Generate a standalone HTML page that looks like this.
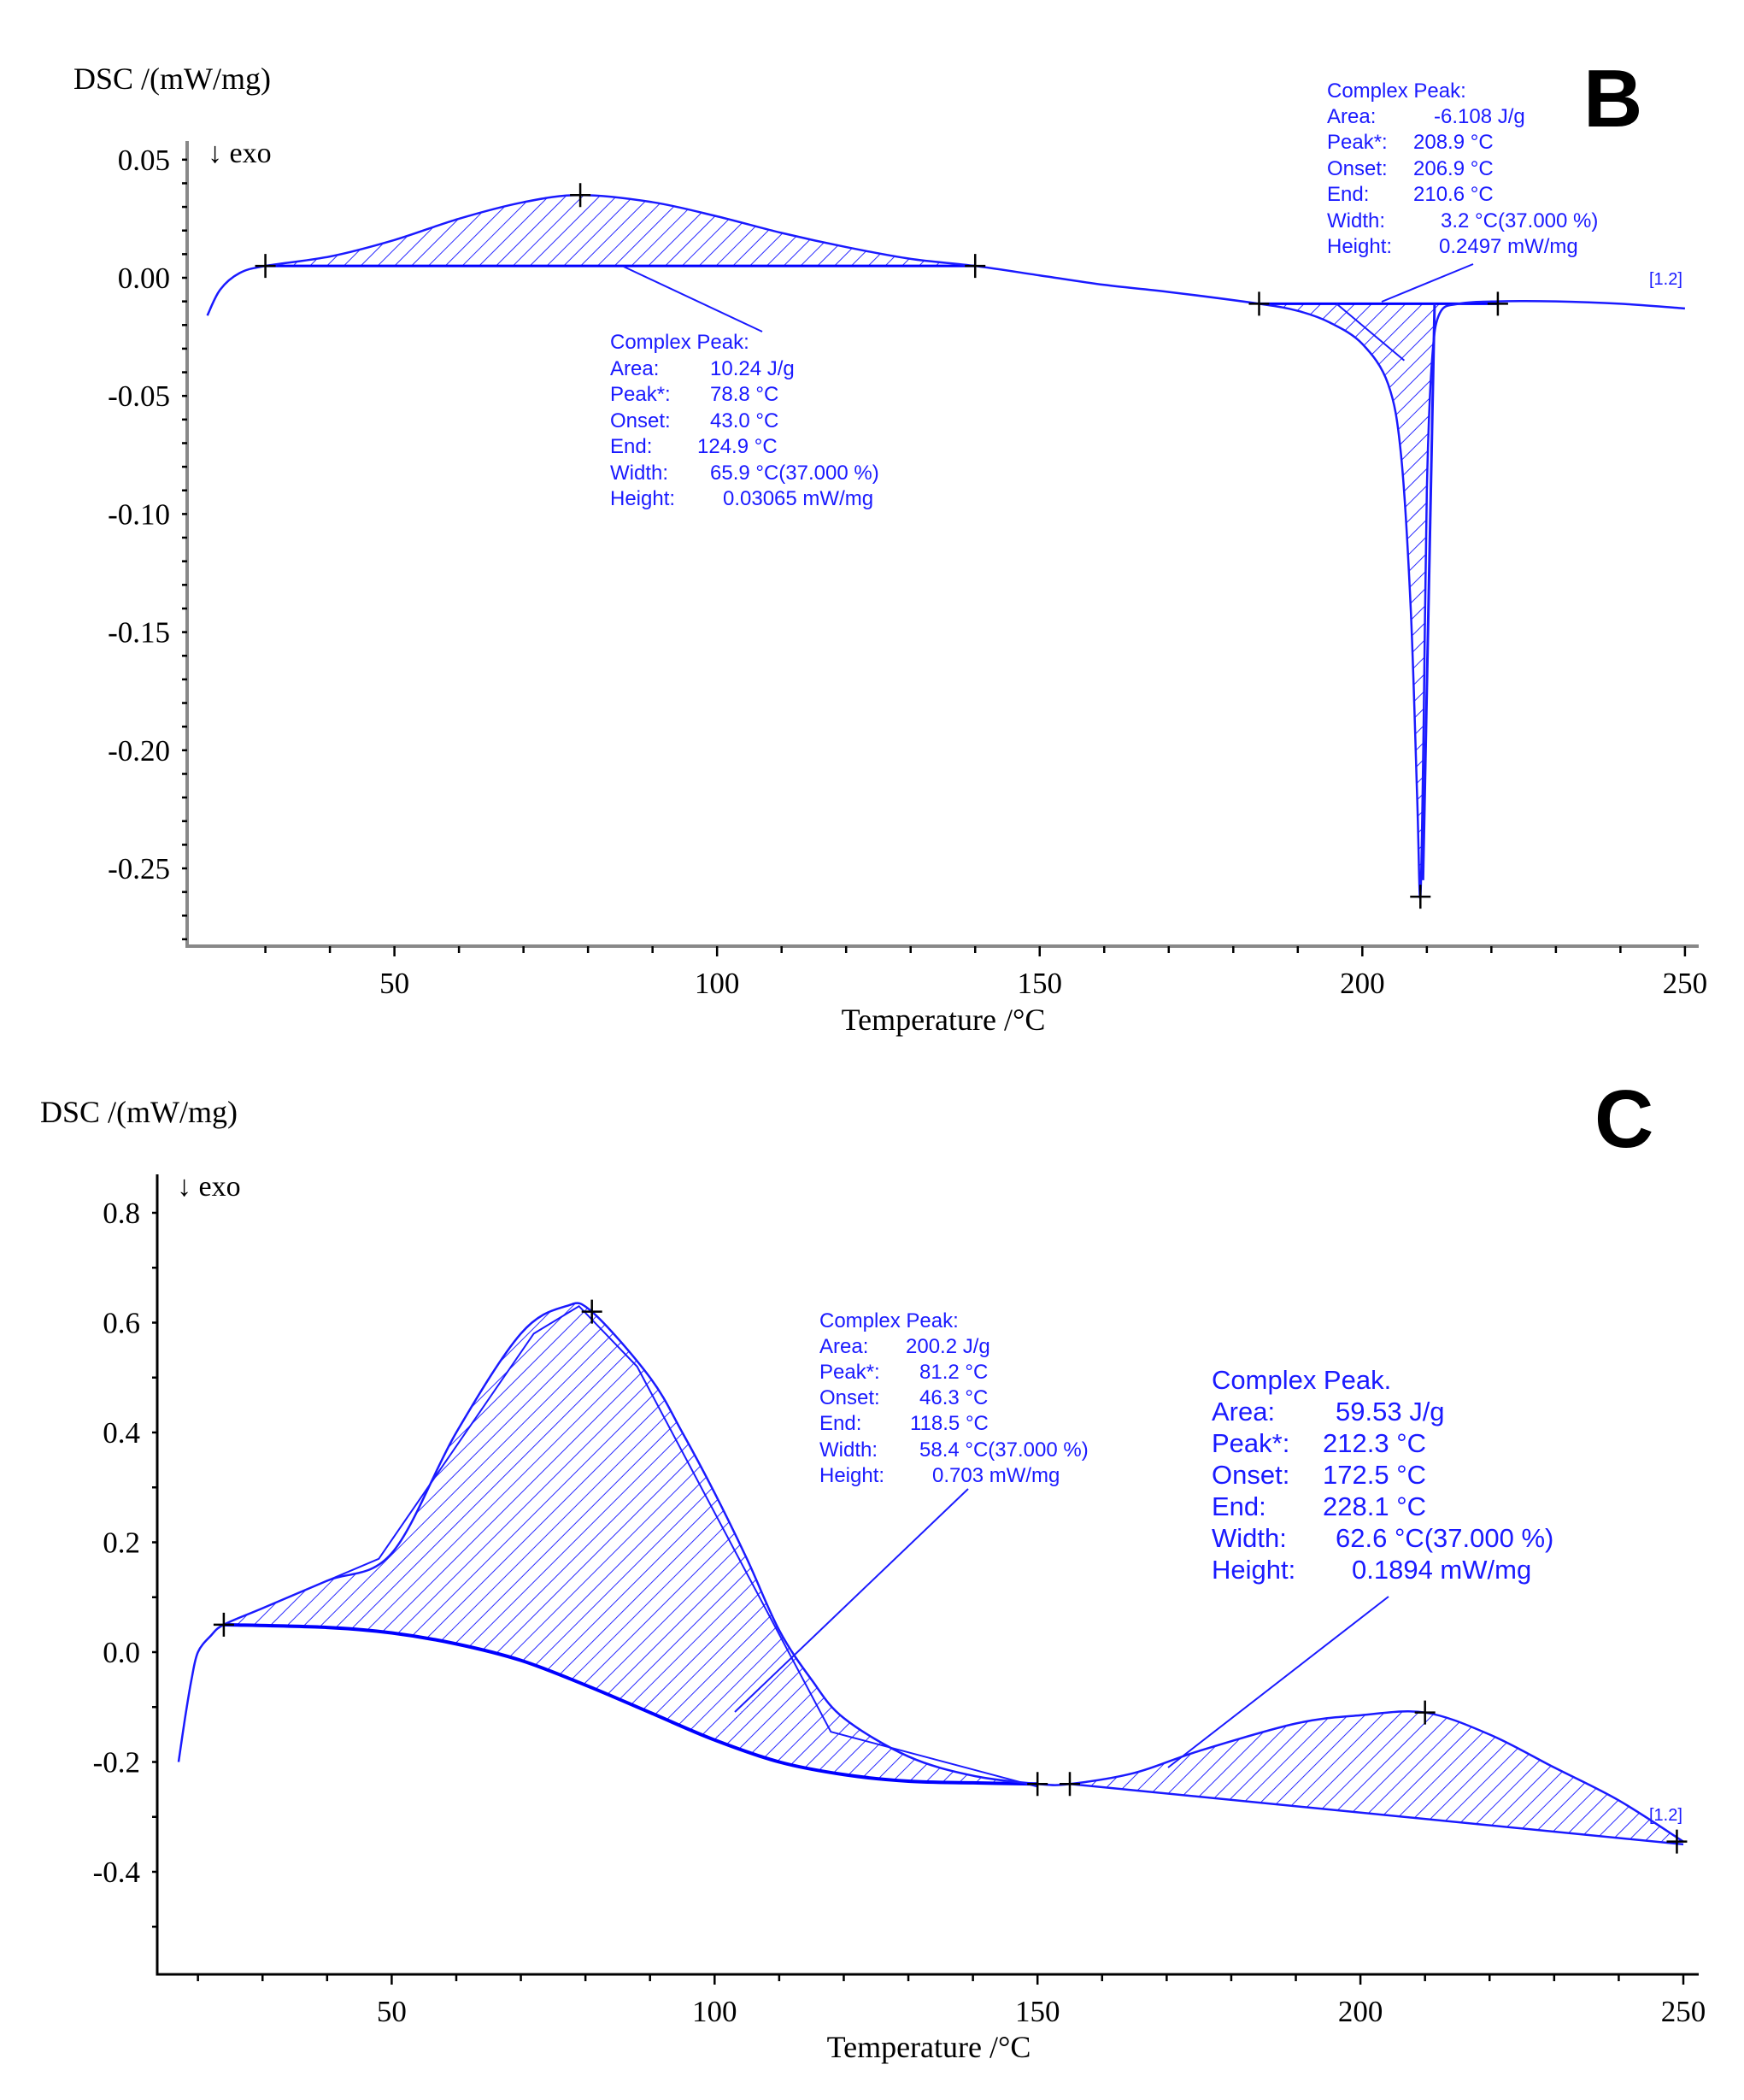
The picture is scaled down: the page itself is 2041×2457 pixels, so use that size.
<!DOCTYPE html>
<html><head><meta charset="utf-8"><style>
html,body{margin:0;padding:0;background:#fff;}
svg{display:block}
.tk{font-family:"Liberation Serif",serif;font-size:35px;fill:#000;}
.ann{font-family:"Liberation Sans",sans-serif;font-size:24px;fill:#1a1aff;}
.ann2{font-family:"Liberation Sans",sans-serif;font-size:31px;fill:#1a1aff;}
</style></head><body>
<svg id="svg" width="2041" height="2457" viewBox="0 0 2041 2457" xmlns="http://www.w3.org/2000/svg">
<defs>
<pattern id="hatch" patternUnits="userSpaceOnUse" width="14" height="14" patternTransform="rotate(45)">
<line x1="0" y1="0" x2="0" y2="14" stroke="#2a2aff" stroke-width="2"/>
</pattern>
</defs>
<g id="gB"></g>
<g id="gC"></g>
<text x="86" y="104" class="tk" style="font-size:36px">DSC /(mW/mg)</text>
<text x="243" y="190" class="tk" style="font-size:34px">↓ exo</text>
<text x="1853" y="148" style="font-family:'Liberation Sans',sans-serif;font-weight:bold;font-size:96px">B</text>
<text x="1104" y="1205" class="tk" text-anchor="middle" style="font-size:36px">Temperature /°C</text>
<g class="ann">
<text x="714" y="408">Complex Peak:</text>
<text x="714" y="439">Area:</text><text x="831" y="439">10.24 J/g</text>
<text x="714" y="469">Peak*:</text><text x="831" y="469">78.8 °C</text>
<text x="714" y="500">Onset:</text><text x="831" y="500">43.0 °C</text>
<text x="714" y="530">End:</text><text x="816" y="530">124.9 °C</text>
<text x="714" y="561">Width:</text><text x="831" y="561">65.9 °C(37.000 %)</text>
<text x="714" y="591">Height:</text><text x="846" y="591">0.03065 mW/mg</text>
</g>
<g class="ann">
<text x="1553" y="114">Complex Peak:</text>
<text x="1553" y="144">Area:</text><text x="1678" y="144">-6.108 J/g</text>
<text x="1553" y="174">Peak*:</text><text x="1654" y="174">208.9 °C</text>
<text x="1553" y="205">Onset:</text><text x="1654" y="205">206.9 °C</text>
<text x="1553" y="235">End:</text><text x="1654" y="235">210.6 °C</text>
<text x="1553" y="266">Width:</text><text x="1686" y="266">3.2 °C(37.000 %)</text>
<text x="1553" y="296">Height:</text><text x="1684" y="296">0.2497 mW/mg</text>
</g>
<text x="1930" y="333" class="ann" style="font-size:20px">[1.2]</text>

<text x="47" y="1313" class="tk" style="font-size:36px">DSC /(mW/mg)</text>
<text x="207" y="1399" class="tk" style="font-size:34px">↓ exo</text>
<text x="1866" y="1342" style="font-family:'Liberation Sans',sans-serif;font-weight:bold;font-size:96px">C</text>
<text x="1087" y="2407" class="tk" text-anchor="middle" style="font-size:36px">Temperature /°C</text>
<g class="ann">
<text x="959" y="1553">Complex Peak:</text>
<text x="959" y="1583">Area:</text><text x="1060" y="1583">200.2 J/g</text>
<text x="959" y="1613">Peak*:</text><text x="1076" y="1613">81.2 °C</text>
<text x="959" y="1643">Onset:</text><text x="1076" y="1643">46.3 °C</text>
<text x="959" y="1673">End:</text><text x="1065" y="1673">118.5 °C</text>
<text x="959" y="1704">Width:</text><text x="1076" y="1704">58.4 °C(37.000 %)</text>
<text x="959" y="1734">Height:</text><text x="1091" y="1734">0.703 mW/mg</text>
</g>
<g class="ann2">
<text x="1418" y="1625">Complex Peak.</text>
<text x="1418" y="1662">Area:</text><text x="1563" y="1662">59.53 J/g</text>
<text x="1418" y="1699">Peak*:</text><text x="1548" y="1699">212.3 °C</text>
<text x="1418" y="1736">Onset:</text><text x="1548" y="1736">172.5 °C</text>
<text x="1418" y="1773">End:</text><text x="1548" y="1773">228.1 °C</text>
<text x="1418" y="1810">Width:</text><text x="1563" y="1810">62.6 °C(37.000 %)</text>
<text x="1418" y="1847">Height:</text><text x="1582" y="1847">0.1894 mW/mg</text>
</g>
<text x="1930" y="2130" class="ann" style="font-size:20px">[1.2]</text>
</svg>
<script>
// ---- Panel B data ----
const bT = [21,23,26,30,40,50,60,70,78.8,90,100,110,120,130,140,150,160,170,184,190,195,200,204,206,207.5,208.5,209,209.5,210,210.8,212,215,221,230,240,250];
const bY = [-0.016,-0.005,0.002,0.005,0.009,0.016,0.025,0.032,0.035,0.032,0.026,0.019,0.013,0.008,0.005,0.001,-0.003,-0.006,-0.011,-0.014,-0.019,-0.028,-0.045,-0.075,-0.14,-0.22,-0.262,-0.19,-0.09,-0.035,-0.015,-0.011,-0.010,-0.010,-0.011,-0.013];
const bXTicks = [50,100,150,200,250];
const bYTicks = [0.05,0,-0.05,-0.10,-0.15,-0.20,-0.25];
const bYTickLabels = ["0.05","0.00","-0.05","-0.10","-0.15","-0.20","-0.25"];
const bPeak1 = [30,140]; const bBase1 = 0.005; const bPeak1Max = [78.8,0.035];
const bPeak2 = [184,221]; const bBase2 = -0.011; const bPeak2Min = [209,-0.262];
// ---- Panel C data ----
const cT = [17,18,19,20,22,24,30,40,50,60,70,77,81,90,95,100,105,110,115,120,130,140,150,155,165,175,190,200,210,220,230,240,250];
const cY = [-0.2,-0.12,-0.05,0.0,0.03,0.05,0.08,0.13,0.18,0.40,0.58,0.63,0.62,0.50,0.40,0.29,0.17,0.04,-0.05,-0.12,-0.19,-0.225,-0.24,-0.24,-0.22,-0.18,-0.13,-0.115,-0.11,-0.15,-0.21,-0.27,-0.345];
const cBaseT = [24,40,50,60,70,80,90,100,110,120,130,140,150];
const cBaseY = [0.05,0.045,0.035,0.015,-0.015,-0.06,-0.11,-0.16,-0.2,-0.223,-0.235,-0.238,-0.24];
const cBase2 = [[155,-0.24],[250,-0.35]];
const cConstrT = [40,48,72,79,88,118,150];
const cConstrY = [0.13,0.17,0.58,0.63,0.52,-0.145,-0.245];
const cXTicks = [50,100,150,200,250];
const cYTicks = [0.8,0.6,0.4,0.2,0,-0.2,-0.4];
const cYTickLabels = ["0.8","0.6","0.4","0.2","0.0","-0.2","-0.4"];
const cMarks = [[24,0.05],[81,0.62],[150,-0.24],[155,-0.24],[210,-0.11],[249,-0.345]];

const NS="http://www.w3.org/2000/svg";
function mk(tag,attrs,parent){const e=document.createElementNS(NS,tag);for(const k in attrs)e.setAttribute(k,attrs[k]);parent.appendChild(e);return e;}
function smooth(pts){let d="M"+pts[0][0]+","+pts[0][1];for(let i=0;i<pts.length-1;i++){const p0=pts[i-1]||pts[i],p1=pts[i],p2=pts[i+1],p3=pts[i+2]||p2;const c1=[p1[0]+(p2[0]-p0[0])/6,p1[1]+(p2[1]-p0[1])/6],c2=[p2[0]-(p3[0]-p1[0])/6,p2[1]-(p3[1]-p1[1])/6];d+=" C"+c1+" "+c2+" "+p2;}return d;}
function cross(g,x,y,name){const c=mk("path",{d:`M${x-12},${y}H${x+12}M${x},${y-14}V${y+14}`,stroke:"#000","stroke-width":2.5,fill:"none"},g);

}

function axes(g,X,Y,cfg,prefix){
  const ax=mk("path",{d:`M${cfg.x0},${cfg.yTop}V${cfg.yBot}H${cfg.x1}`,stroke:cfg.axColor,"stroke-width":cfg.axW,fill:"none"},g);
  
  
  for(let t=cfg.xmin;t<=250;t+=10){const x=X(t);const big=t%50===0;const tk=mk("line",{x1:x,x2:x,y1:cfg.yBot,y2:cfg.yBot+(big?12:8),stroke:"#000","stroke-width":2.5},g);
    
    }
  cfg.xt.forEach(t=>{const l=mk("text",{x:X(t),y:cfg.yBot+55,"text-anchor":"middle",class:"tk"},g);l.textContent=t;
    
    });
  for(let v=cfg.ymin;v<=cfg.ymax+1e-9;v+=cfg.ystep){const y=Y(v);const tk=mk("line",{x1:cfg.x0-6,x2:cfg.x0,y1:y,y2:y,stroke:"#000","stroke-width":2.5},g);
    
    }
  cfg.yt.forEach((v,i)=>{const l=mk("text",{x:cfg.x0-20,y:Y(v)+12,"text-anchor":"end",class:"tk"},g);l.textContent=cfg.ytl[i];
    
    });
}

// ---- Panel B ----
(function(){
 const g=document.getElementById("gB");
 const X=t=>461.6+(t-50)*(1971.9-461.6)/200;
 const Y=v=>325-v*(325-186.8)/0.05;
 axes(g,X,Y,{x0:219,x1:1988,yTop:165,yBot:1107,xmin:30,xt:bXTicks,yt:bYTicks,ytl:bYTickLabels,ymin:-0.28,ymax:0.05,ystep:0.01,axColor:"#888",axW:4},"panel-b");
 function area(range,base,name){const pts=[];bT.forEach((t,i)=>{if(t>=range[0]&&t<=range[1])pts.push([X(t),Y(bY[i])]);});
   const d=smooth(pts)+` L${X(range[1])},${Y(base)} L${X(range[0])},${Y(base)} Z`;
   const a=mk("path",{d:d,fill:"url(#hatch)",stroke:"none"},g);
   
   
   const bl=mk("line",{x1:X(range[0]),x2:X(range[1]),y1:Y(base),y2:Y(base),stroke:"#0000ff","stroke-width":3},g);
   
   }
 area(bPeak1,bBase1,"panel-b-peak-1-area");
 area(bPeak2,bBase2,"panel-b-peak-2-area");
 const c=mk("path",{d:smooth(bT.map((t,i)=>[X(t),Y(bY[i])])),stroke:"#1a1aff","stroke-width":2.5,fill:"none"},g);
 
 
 const inner=mk("line",{x1:X(211.2),x2:X(209.4),y1:Y(bBase2),y2:Y(-0.255),stroke:"#1a1aff","stroke-width":3},g);
 
 
 const diag=mk("line",{x1:X(196),x2:X(206.5),y1:Y(bBase2),y2:Y(-0.035),stroke:"#1a1aff","stroke-width":2},g);
 
 
 cross(g,X(bPeak1[0]),Y(bBase1),'panel-b-onset-marker');
 cross(g,X(bPeak1[1]),Y(bBase1),'panel-b-end-marker');
 cross(g,X(bPeak1Max[0]),Y(bPeak1Max[1]),'panel-b-peak-1-marker');
 cross(g,X(bPeak2[0]),Y(bBase2),'panel-b-onset-2-marker');
 cross(g,X(bPeak2[1]),Y(bBase2),'panel-b-end-2-marker');
 cross(g,X(bPeak2Min[0]),Y(bPeak2Min[1]),'panel-b-peak-2-marker');
 const l1=mk("line",{x1:730,y1:312,x2:892,y2:388,stroke:"#1a1aff","stroke-width":2},g);
 
 
 const l2=mk("line",{x1:1617,y1:353,x2:1724,y2:309,stroke:"#1a1aff","stroke-width":2},g);
 
 
})();

// ---- Panel C ----
(function(){
 const g=document.getElementById("gC");
 const X=t=>458.4+(t-50)*(1970-458.4)/200;
 const Y=v=>1933-v*(1933-1419)/0.8;
 axes(g,X,Y,{x0:184,x1:1988,yTop:1374,yBot:2310,xmin:20,xt:cXTicks,yt:cYTicks,ytl:cYTickLabels,ymin:-0.5,ymax:0.8,ystep:0.1,axColor:"#000",axW:3},"panel-c");
 const up=[];cT.forEach((t,i)=>{if(t>=24&&t<=150)up.push([X(t),Y(cY[i])]);});
 const lo=cBaseT.map((t,i)=>[X(t),Y(cBaseY[i])]).reverse();
 const a1=mk("path",{d:smooth(up)+" L"+lo.map(p=>p.join(",")).join(" L")+" Z",fill:"url(#hatch)",stroke:"none"},g);
 
 
 const b1=mk("path",{d:smooth(cBaseT.map((t,i)=>[X(t),Y(cBaseY[i])])),stroke:"#0000ff","stroke-width":4,fill:"none"},g);
 
 
 const up2=[];cT.forEach((t,i)=>{if(t>=155)up2.push([X(t),Y(cY[i])]);});
 const a2=mk("path",{d:smooth(up2)+` L${X(cBase2[1][0])},${Y(cBase2[1][1])} L${X(cBase2[0][0])},${Y(cBase2[0][1])} Z`,fill:"url(#hatch)",stroke:"none"},g);
 
 
 const b2=mk("line",{x1:X(cBase2[0][0]),y1:Y(cBase2[0][1]),x2:X(cBase2[1][0]),y2:Y(cBase2[1][1]),stroke:"#1a1aff","stroke-width":2.5},g);
 
 
 const c=mk("path",{d:smooth(cT.map((t,i)=>[X(t),Y(cY[i])])),stroke:"#1a1aff","stroke-width":2.5,fill:"none"},g);
 
 
 const tg=mk("polyline",{points:cConstrT.map((t,i)=>X(t)+","+Y(cConstrY[i])).join(" "),stroke:"#1a1aff","stroke-width":2,fill:"none"},g);
 
 
 cMarks.forEach(p=>cross(g,X(p[0]),Y(p[1]),'panel-c-marker'));
 const l1=mk("line",{x1:1133,y1:1742,x2:860,y2:2003,stroke:"#1a1aff","stroke-width":2},g);
 
 
 const l2=mk("line",{x1:1625,y1:1868,x2:1367,y2:2068,stroke:"#1a1aff","stroke-width":2},g);
 
 
})();
</script>
</body></html>
